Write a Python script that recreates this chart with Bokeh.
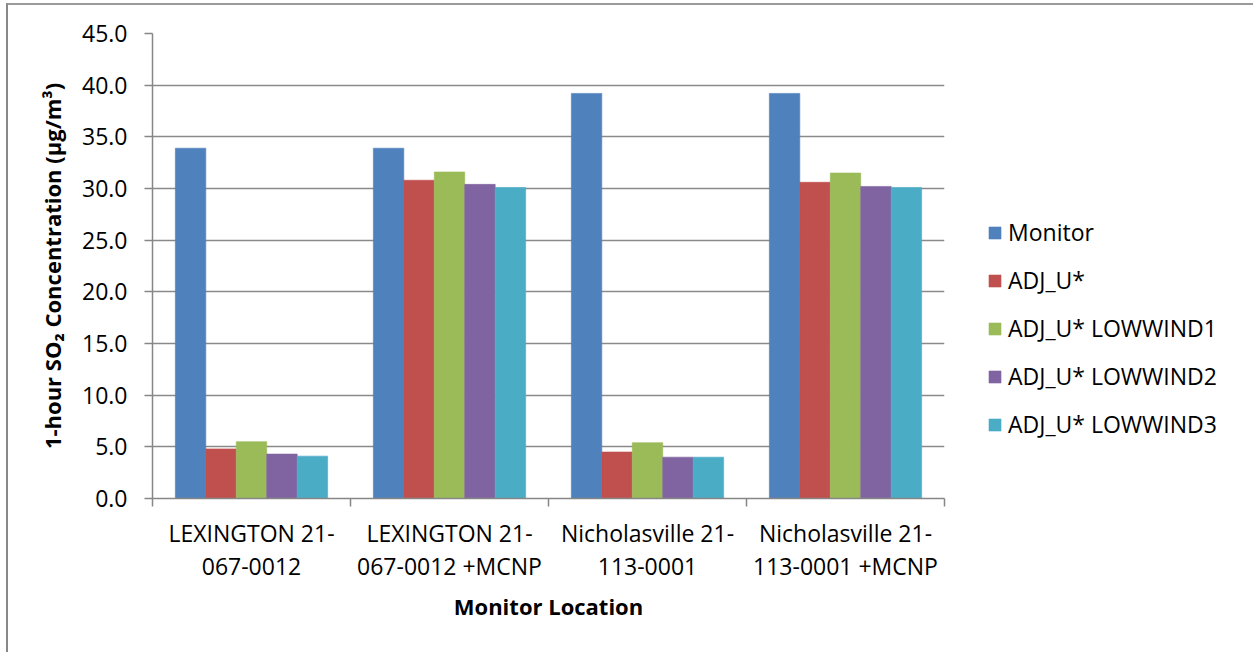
from bokeh.plotting import figure
from bokeh.models import (Range1d, FixedTicker, PrintfTickFormatter, ColumnDataSource,
                          Legend, LegendItem, InlineStyleSheet)
from bokeh.transform import dodge
from bokeh.embed import file_html
from bokeh.resources import INLINE

categories = ["LEXINGTON 21-\n067-0012", "LEXINGTON 21-\n067-0012 +MCNP",
              "Nicholasville 21-\n113-0001", "Nicholasville 21-\n113-0001 +MCNP"]
series_names = ["Monitor", "ADJ_U*", "ADJ_U* LOWWIND1", "ADJ_U* LOWWIND2", "ADJ_U* LOWWIND3"]
monitor = [33.9, 33.9, 39.2, 39.2]
adj_u = [4.8, 30.8, 4.5, 30.6]
lowwind1 = [5.5, 31.6, 5.4, 31.5]
lowwind2 = [4.3, 30.4, 4.0, 30.2]
lowwind3 = [4.1, 30.1, 4.0, 30.1]
y_ticks = [0, 5, 10, 15, 20, 25, 30, 35, 40, 45]

series_values = [monitor, adj_u, lowwind1, lowwind2, lowwind3]
colors = ["#4F81BD", "#C0504D", "#9BBB59", "#8064A2", "#4BACC6"]

FONT = "Open Sans"
frame_left, frame_top, frame_w, frame_h = 152, 33, 792, 465

p = figure(frame_width=frame_w, frame_height=frame_h, output_backend="svg", toolbar_location=None,
           x_range=Range1d(0, len(categories)), y_range=Range1d(0, 45),
           min_border_left=frame_left, min_border_top=frame_top,
           min_border_right=0, min_border_bottom=652 - frame_top - frame_h)
p.outline_line_color = None
p.background_fill_color = "white"
p.border_fill_color = "white"

centers = [i + 0.5 for i in range(len(categories))]
data = {"x": centers}
for name, vals in zip(series_names, series_values):
    data[name] = vals
src = ColumnDataSource(data)

n = len(series_names)
bw = 1.0 / (n + 1.5)
items = []
for j, (name, col) in enumerate(zip(series_names, colors)):
    off = (j - (n - 1) / 2) * bw
    r = p.vbar(x=dodge("x", off, range=p.x_range), top=name, width=bw, source=src,
               fill_color=col, line_color=col, line_alpha=0.6, line_width=1)
    items.append(LegendItem(label=name, renderers=[r]))

# axes
xa = p.xaxis[0]
xa.ticker = FixedTicker(ticks=centers, minor_ticks=list(range(len(categories) + 1)))
xa.major_label_overrides = {c: lab for c, lab in zip(centers, categories)}
xa.major_tick_line_color = None
xa.minor_tick_in = 0
xa.minor_tick_out = 8
xa.minor_tick_line_color = "#868686"
xa.minor_tick_line_width = 1.5
xa.axis_line_color = "#868686"
xa.axis_line_width = 1.5
xa.major_label_text_font = FONT
xa.major_label_text_font_size = "23px"
xa.major_label_text_color = "black"
xa.major_label_text_line_height = 1.05
xa.major_label_standoff = 10
xa.axis_label = "Monitor Location"
xa.axis_label_text_font = FONT
xa.axis_label_text_font_size = "22px"
xa.axis_label_text_font_style = "bold"
xa.axis_label_text_color = "black"
xa.axis_label_standoff = 6

ya = p.yaxis[0]
ya.ticker = FixedTicker(ticks=y_ticks)
ya.formatter = PrintfTickFormatter(format="%.1f")
ya.major_tick_in = 0
ya.major_tick_out = 8
ya.minor_tick_line_color = None
ya.major_tick_line_color = "#868686"
ya.major_tick_line_width = 1.5
ya.axis_line_color = "#868686"
ya.axis_line_width = 1.5
ya.major_label_text_font = FONT
ya.major_label_text_font_size = "23px"
ya.major_label_text_color = "black"
ya.major_label_standoff = 17
ya.axis_label = "1-hour SO\u2082 Concentration (\u00b5g/m\u00b3)"
ya.axis_label_text_font = FONT
ya.axis_label_text_font_size = "22px"
ya.axis_label_text_font_style = "bold"
ya.axis_label_text_color = "black"
ya.axis_label_standoff = 12

p.xgrid.grid_line_color = None
p.ygrid.grid_line_color = "#8A8A8A"
p.ygrid.grid_line_width = 1.5

legend = Legend(items=items, location=(43, 58), padding=0, margin=0,
                border_line_color=None, background_fill_alpha=0,
                glyph_width=15, glyph_height=15, label_height=15,
                label_standoff=6, spacing=16,
                label_text_font=FONT, label_text_font_size="23px", label_text_color="black")
p.add_layout(legend, "right")

p.stylesheets = [InlineStyleSheet(css=(
    ":host { position: relative; }"
    ":host::after { content: ''; position: absolute; left: 6px; top: 3px; right: -400px; bottom: -20px;"
    " border-left: 2px solid #888888; border-top: 2px solid #9a9a9a; pointer-events: none; }"))]

open("out.html", "w").write(file_html(p, INLINE))
